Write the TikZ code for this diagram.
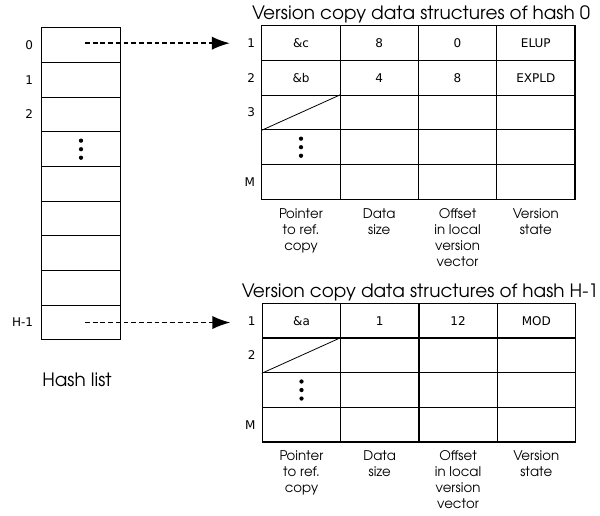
\documentclass[tikz,border=0pt]{standalone}
\usepackage[T1]{fontenc}
\usepackage{fontspec}
\usepackage{tikz}
\usetikzlibrary{matrix, positioning, arrows.meta}
\newfontfamily\dvsans{DejaVu Sans}
\newcommand\gothic{\fontencoding{T1}\fontfamily{pag}\selectfont}
\tikzset{
	cell/.style={draw, line width=0.9pt, minimum width=58.7pt, minimum height=26pt, inner sep=0pt, anchor=center},
	tbl/.style={matrix of nodes, inner sep=0pt, row sep=-0.9pt, column sep=-0.9pt, nodes in empty cells,
		nodes={cell, font=\dvsans\fontsize{9}{11}\selectfont}},
	rowlbl/.style={anchor=east, inner sep=0pt, font=\dvsans\fontsize{9}{11}\selectfont},
	caption/.style={align=center, inner sep=0pt, font=\gothic\fontsize{10}{12}\selectfont},
	title/.style={anchor=base, inner sep=0pt, font=\gothic\fontsize{13.8}{16}\selectfont},
	ptr/.style={dash pattern=on 3.6pt off 2.2pt, line width=1.1pt, -{Latex[length=13.5pt, width=10pt]}, shorten <=3pt}
}

\begin{document}
\begin{tikzpicture}
	[ x=0.75pt, y=-0.75pt ]
	\useasboundingbox (0,0) rectangle (600,516);
	\matrix (hash) [tbl, anchor=north west] at (41,27) {
		\\ \\ \\ \\ \\ \\ \\ \\ \\
	};
	\matrix (top) [tbl, anchor=north west] at (261,25) {
		\&c & 8 & 0 & ELUP \\
		\&b & 4 & 8 & EXPLD \\
		& & & \\
		& & & \\
		& & & \\
	};
	\matrix (bot) [tbl, anchor=north west] at (261.5,302.5) {
		\&a & 1 & 12 & MOD \\
		& & & \\
		& & & \\
		& & & \\
	};
	\node[rowlbl] (h0) at ([xshift=-6pt]hash-1-1.west) {0};
	\node[rowlbl] (h1) at ([xshift=-6pt]hash-2-1.west) {1};
	\node[rowlbl] (h2) at ([xshift=-6pt]hash-3-1.west) {2};
	\node[rowlbl] (hH) at ([xshift=-6pt]hash-9-1.west) {H-1};
	\node[rowlbl] (top1) at ([xshift=-4.5pt]top-1-1.west) {1};
	\node[rowlbl] (top2) at ([xshift=-4.5pt]top-2-1.west) {2};
	\node[rowlbl] (top3) at ([xshift=-4.5pt]top-3-1.west) {3};
	\node[rowlbl] (topM) at ([xshift=-4.5pt]top-5-1.west) {M};
	\node[rowlbl] (bot1) at ([xshift=-4.5pt]bot-1-1.west) {1};
	\node[rowlbl] (bot2) at ([xshift=-4.5pt]bot-2-1.west) {2};
	\node[rowlbl] (botM) at ([xshift=-4.5pt]bot-4-1.west) {M};
	\node[title] (ttl0) at ([xshift=2pt, yshift=3.8pt]top.north) {Version copy data structures of hash 0};
	\node[title] (ttlH) at ([xshift=1pt, yshift=3.8pt]bot.north) {Version copy data structures of hash H-1};
	\node[title, anchor=north, below=24pt of hash, xshift=-3pt] (hlist) {Hash list};
	\foreach \m/\r in {top/5, bot/4} {
		\node[caption, below=6pt of \m-\r-1] {Pointer\\to ref.\\copy};
		\node[caption, below=6pt of \m-\r-2] {Data\\size};
		\node[caption, below=6pt of \m-\r-3] {Offset\\in local\\version\\vector};
		\node[caption, below=6pt of \m-\r-4] {Version\\state};
	}
	\foreach \c in {hash-4-1, top-4-1, bot-3-1}
		\foreach \dy in {-6.4, 0, 6.4}
			\fill ([yshift=\dy pt]\c.center) circle (1.6pt);
	\draw[line width=0.6pt]
	(top-3-1.south west) -- (top-3-1.north east)
	(bot-2-1.south west) -- (bot-2-1.north east);
	\draw[ptr] (hash-1-1.center |- top1.west) -- (top1.west) [shorten >=13pt];
	\draw[ptr] (hash-9-1.center) -- (hash-9-1.center -| bot1.west) [shorten >=13pt];
\end{tikzpicture}
\end{document}
